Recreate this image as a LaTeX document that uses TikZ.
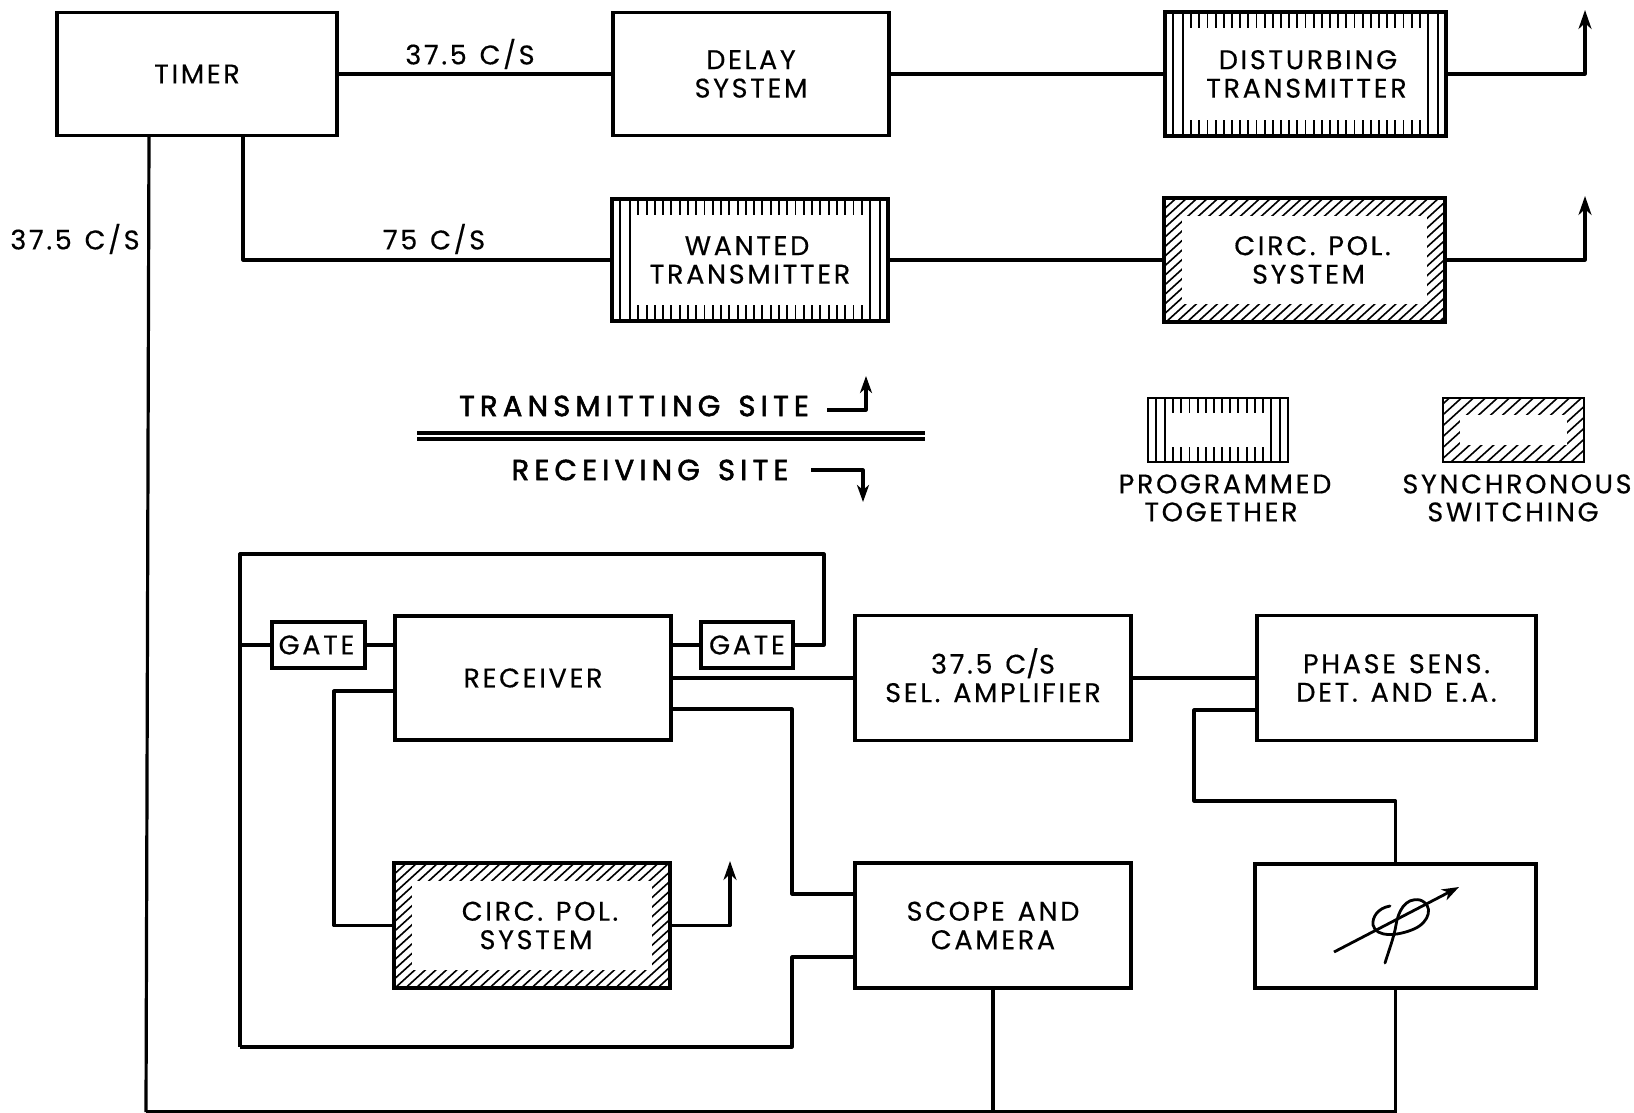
\documentclass[tikz,border=0pt]{standalone}
\usepackage{fontspec}
\usetikzlibrary{arrows.meta,calc}
\setmainfont[LetterSpace=10,WordSpace=1.3,FakeBold=0.4]{Poppins}
\newfontfamily\sitefont[LetterSpace=18,WordSpace=1.4,FakeBold=2]{Poppins}
\tikzset{
  box/.style={draw,line width=3.4pt,rectangle,inner sep=0pt,align=center,font=\lbl},
  lab/.style={inner sep=0pt,align=center,font=\lbl},
  wire/.style={line width=3.2pt,line join=round},
  arrowwire/.style={wire,-{Stealth[length=19pt,width=13pt,inset=6pt]}},
  hatch/.style={line width=1.9pt},
  dhatch/.style={line width=1.6pt},
}
\newcommand\lbl{\fontsize{27}{28.5}\selectfont}
% vertical hatch band: centre x, centre y, half width, half height, band
\newcommand\vhatchband[5]{%
  \begin{scope}[shift={(#1,#2)}]
    \pgfmathsetmacro\xa{-#3+#5}\pgfmathsetmacro\xb{#3-#5}\pgfmathsetmacro\ya{-#4+#5-2}\pgfmathsetmacro\yb{#4-#5+2}
    \pgfmathsetmacro\xas{-#3+#5*0.45}\pgfmathsetmacro\xbs{#3-#5*0.45}
    \draw[hatch] (\xa,-#4)--(\xa,#4) (\xb,-#4)--(\xb,#4) (\xas,-#4)--(\xas,#4) (\xbs,-#4)--(\xbs,#4);
    \pgfmathtruncatemacro\nn{floor((\xb-\xa)/8.3)}
    \foreach \i in {1,...,\nn}{
      \pgfmathsetmacro\xx{\xa+\i*(\xb-\xa)/(\nn+1)}
      \draw[hatch] (\xx,-#4)--(\xx,\ya) (\xx,#4)--(\xx,\yb);
    }
  \end{scope}}
% diagonal hatch band: centre x, centre y, half width, half height, band, spacing
\newcommand\dhatchband[6]{%
  \begin{scope}[shift={(#1,#2)}]
    \clip (-#3,-#4) rectangle (#3,#4);
    \pgfmathsetmacro\total{2*#3+2*#4}
    \pgfmathtruncatemacro\nn{floor(\total/#6)}
    \foreach \i in {0,...,\nn}{
      \pgfmathsetmacro\xx{-#3-2*#4+\i*#6}
      \draw[dhatch] (\xx,#4)--++(2*#4*1.1,-2*#4);
    }
    \fill[white] (-#3+#5,-#4+#5) rectangle (#3-#5,#4-#5);
  \end{scope}}
\begin{document}
\begin{tikzpicture}[x=1pt,y=-1pt]
\useasboundingbox[fill=white] (0,0) rectangle (1634,1113);
% hatching
\vhatchband{1305.5}{74}{140.5}{62}{18}
\vhatchband{750}{260}{138}{61}{18}
\dhatchband{1304.5}{260}{140.5}{62}{18}{10.5}
\dhatchband{532}{925.5}{138}{62.5}{18}{10.5}
\vhatchband{1218}{430}{70}{32}{17}
\dhatchband{1513.5}{430}{70.5}{32}{17}{12}
% boxes
\node[box,minimum width=280pt,minimum height=123pt] (timer) at (197,74) {TIMER};
\node[box,minimum width=276pt,minimum height=123pt] (delay) at (751,74) {DELAY\\SYSTEM};
\node[box,minimum width=281pt,minimum height=124pt] (dist) at (1305.5,74) {\hspace*{5pt}DISTURBING\\\hspace*{2pt}TRANSMITTER};
\node[box,minimum width=276pt,minimum height=122pt] (want) at (750,260) {\hspace*{-6pt}WANTED\\TRANSMITTER};
\node[box,minimum width=281pt,minimum height=124pt] (circa) at (1304.5,260) {\hspace*{16pt}CIRC. POL.\\\hspace*{8pt}SYSTEM};
\node[box,line width=2.6pt,minimum width=140pt,minimum height=64pt] (legv) at (1218,430) {};
\node[box,line width=2.6pt,minimum width=141pt,minimum height=64pt] (legd) at (1513.5,430) {};
\node[box,minimum width=276pt,minimum height=124pt] (recv) at (533,678) {RECEIVER};
\node[box,minimum width=93pt,minimum height=46pt] (gatea) at (318.5,645) {\hspace*{-4pt}GATE};
\node[box,minimum width=92pt,minimum height=46pt] (gateb) at (747,645) {GATE};
\node[box,minimum width=276pt,minimum height=125pt] (amp) at (993,678) {37.5 C\smash{/}S\\SEL. AMPLIFIER};
\node[box,minimum width=279pt,minimum height=125pt] (phase) at (1396.5,678) {PHASE SENS.\\DET. AND E.A.};
\node[box,minimum width=276pt,minimum height=125pt] (scope) at (993,925.5) {SCOPE AND\\CAMERA};
\node[box,minimum width=276pt,minimum height=125pt] (circb) at (532,925.5) {\hspace*{16pt}CIRC. POL.\\\hspace*{8pt}SYSTEM};
\node[box,minimum width=281pt,minimum height=124pt] (phi) at (1395.5,926) {};
% labels
\node[lab] (la) at (470,54) {37.5 C/S};
\node[lab] (lb) at (75,239) {37.5 C/S};
\node[lab] (lc) at (434,239) {75 C/S};
\node[lab] (ta) at (1225,484) {PROGRAMMED};
\node[lab] (tb) at (1221,512) {TOGETHER};
\node[lab] (tc) at (1517,484) {SYNCHRONOUS};
\node[lab] (td) at (1513,512) {SWITCHING};
\node[inner sep=0pt,font={\sitefont\fontsize{29}{30}\selectfont}] (tsite) at (634,406) {TRANSMITTING SITE};
\node[inner sep=0pt,font={\sitefont\fontsize{29}{30}\selectfont}] (rsite) at (650,470) {RECEIVING SITE};
% top row
\coordinate (ua) at (1585,10);
\coordinate (ub) at (1585,196);
\draw[wire] (timer.east) -- (delay.west);
\draw[wire] (delay.east) -- (dist.west);
\draw[arrowwire] (dist.east) -| (ua);
\draw[wire] (want.east) -- (circa.west);
\draw[arrowwire] (circa.east) -| (ub);
\coordinate (tv) at (243,0);
\draw[wire] (tv |- timer.south) |- (want.west);
% site divider
\coordinate (da) at (417,433); \coordinate (db) at (925,433);
\coordinate (dc) at (417,439); \coordinate (dd) at (925,439);
\draw[wire] (da) -- (db);
\draw[wire] (dc) -- (dd);
\coordinate (sa) at (827,410); \coordinate (sb) at (866,376);
\coordinate (sc) at (811,470); \coordinate (sd) at (863,502);
\draw[wire,-{Stealth[length=17pt,width=12pt,inset=5pt]}] (sa) -| (sb);
\draw[wire,-{Stealth[length=17pt,width=12pt,inset=5pt]}] (sc) -| (sd);
% receiver loop
\coordinate (lt) at (824,554);
\coordinate (lx) at (240,554);
\coordinate (lb2) at (240,1047);
\draw[wire] (gatea.west) -- (lx |- gatea.west);
\draw[wire] (gateb.east) -| (lt) -- (lx) -- (lb2);
\draw[wire] (gatea.east) -- (recv.west |- gatea.east);
\draw[wire] (recv.east |- gateb.west) -- (gateb.west);
\draw[wire] (recv.east) -- (amp.west);
\draw[wire] (amp.east) -- (phase.west);
% receiver to scope
\coordinate (ra) at (671,709); \coordinate (rb) at (792,709);
\coordinate (rc) at (855,894); \coordinate (rd) at (792,894);
\draw[wire] (ra) -- (rb) -- (rd) -- (rc);
\coordinate (re) at (855,957); \coordinate (rf) at (792,957);
\draw[wire] (re) -- (rf) -- (rf |- lb2) -- (lb2);
% receiver to circ pol
\coordinate (ca) at (395,691); \coordinate (cb) at (334,691);
\draw[wire] (ca) -- (cb) |- (circb.west);
\coordinate (cu) at (730,861);
\draw[arrowwire] (circb.east) -| (cu);
% phase shifter
\coordinate (pa) at (1257,710); \coordinate (pb) at (1194,710); \coordinate (pc) at (1194,801);
\draw[wire] (pa) -- (pb) -- (pc) -| (phi.north);
% common rail
\coordinate (rail) at (146,1112);
\coordinate (railtop) at (149,135);
\draw[wire] (railtop) -- (rail);
\draw[wire] (rail) -| (phi.south);
\draw[wire] (scope.south) -- (scope.south |- rail);
% phase symbol
\coordinate (ya) at (1334,952); \coordinate (yb) at (1459,887);
\coordinate (yc) at (1390,906); \coordinate (yd) at (1385,963);
\draw[line width=2.8pt,-{Stealth[length=17pt,width=12pt,inset=5pt]}] (ya) -- (yb);
\draw[line width=2.8pt,line cap=round] (yc) .. controls (1378,908) and (1372,917) .. (1373,925)
  .. controls (1376,938) and (1398,936) .. (1414,929)
  .. controls (1430,922) and (1434,905) .. (1420,900)
  .. controls (1405,897) and (1398,912) .. (1396,925)
  .. controls (1394,937) and (1389,950) .. (yd);
\end{tikzpicture}
\end{document}
